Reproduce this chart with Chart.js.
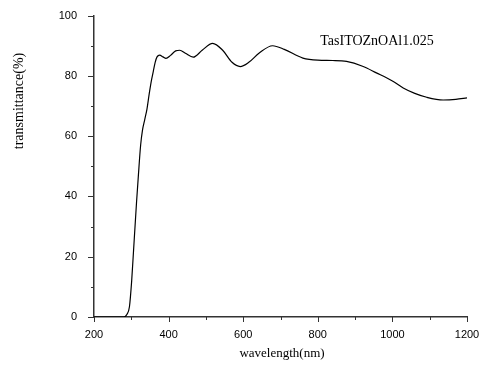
<!DOCTYPE html>
<html>
<head>
<meta charset="utf-8">
<script src="https://cdn.jsdelivr.net/npm/chart.js@4"></script>
<style>
  html, body { margin: 0; padding: 0; background: #fff; }
  #wrap { width: 489px; height: 367px; }
</style>
</head>
<body>
<div id="wrap"><canvas id="spectrum"></canvas></div>
<script>
// transmittance spectrum, wavelength in nm
const wavelength = [200, 250, 275, 280, 288, 295, 301, 306, 310, 314, 319, 325, 330, 336, 342, 348, 354, 359, 364, 369, 376, 385, 393, 405, 419, 430, 445, 466, 490, 518, 545, 570, 592, 615, 643, 679, 710, 760, 800, 840, 877, 920, 957, 1000, 1029, 1060, 1092, 1136, 1170, 1200];
const transmittance = [0, 0, 0, 0, 0.8, 3.4, 12, 22, 30, 38, 47, 57, 62, 65.5, 69, 74, 78.5, 81.5, 84.5, 86.3, 86.9, 86.3, 85.8, 86.8, 88.3, 88.5, 87.5, 86.2, 88.5, 90.8, 88.5, 84.5, 83.1, 84.5, 87.6, 90.0, 88.8, 85.9, 85.2, 85.1, 84.8, 83.2, 81.0, 78.3, 76.0, 74.2, 72.9, 72.0, 72.2, 72.7];
const xTicks = [200, 400, 600, 800, 1000, 1200];
const yTicks = [0, 20, 40, 60, 80, 100];
const seriesName = "TasITOZnOAl1.025";

// axis titles and outward major/minor ticks
const decorations = {
  id: "decorations",
  afterDraw(chart) {
    const { ctx, scales: { x, y } } = chart;
    ctx.save();
    ctx.strokeStyle = "#333";
    ctx.lineWidth = 1;
    for (let v = 200; v <= 1200; v += 100) {
      const px = Math.round(x.getPixelForValue(v)) + 0.5;
      const len = xTicks.includes(v) ? 5 : 3;
      ctx.beginPath();
      ctx.moveTo(px, y.bottom);
      ctx.lineTo(px, y.bottom + len);
      ctx.stroke();
    }
    for (let v = 0; v <= 100; v += 10) {
      const py = Math.round(y.getPixelForValue(v)) + 0.5;
      const len = yTicks.includes(v) ? 6 : 3;
      ctx.beginPath();
      ctx.moveTo(x.left, py);
      ctx.lineTo(x.left - len, py);
      ctx.stroke();
    }

    ctx.fillStyle = "#000";
    ctx.textAlign = "center";
    ctx.textBaseline = "middle";
    ctx.font = "13px 'Liberation Serif'";
    ctx.fillText("wavelength(nm)", 282, 354);

    ctx.font = "14px 'Liberation Serif'";
    ctx.translate(19, 101);
    ctx.rotate(-Math.PI / 2);
    ctx.fillText("transmittance(%)", 0, 0);
    ctx.restore();

    ctx.save();
    ctx.fillStyle = "#000";
    ctx.font = "14px 'Liberation Serif'";
    ctx.textAlign = "center";
    ctx.textBaseline = "middle";
    ctx.fillText(seriesName, 377, 41);
    ctx.restore();
  }
};

const tickFont = { family: "'Liberation Sans'", size: 11 };

new Chart(document.getElementById("spectrum"), {
  type: "line",
  data: {
    datasets: [{
      label: seriesName,
      data: wavelength.map((w, i) => ({ x: w, y: transmittance[i] })),
      borderColor: "#000",
      borderWidth: 1.2,
      pointRadius: 0,
      fill: false,
      cubicInterpolationMode: "monotone"
    }]
  },
  options: {
    responsive: true,
    maintainAspectRatio: false,
    animation: false,
    layout: { padding: { top: 14, right: 22, left: 0, bottom: 0 } },
    plugins: { legend: { display: false }, tooltip: { enabled: false } },
    scales: {
      x: {
        type: "linear",
        min: 200,
        max: 1200,
        afterFit: (s) => { s.height = 50; },
        afterBuildTicks: (s) => { s.ticks = xTicks.map(v => ({ value: v })); },
        grid: { display: false },
        border: { display: true, color: "#333", width: 1.5 },
        ticks: { color: "#000", padding: 3, font: tickFont, callback: (v) => String(v) }
      },
      y: {
        min: 0,
        max: 100,
        afterFit: (s) => { s.width = 94; },
        afterBuildTicks: (s) => { s.ticks = yTicks.map(v => ({ value: v })); },
        grid: { display: false },
        border: { display: true, color: "#333", width: 1.5 },
        ticks: { color: "#000", padding: 9, font: tickFont, callback: (v) => String(v) }
      }
    }
  },
  plugins: [decorations]
});
</script>
</body>
</html>
